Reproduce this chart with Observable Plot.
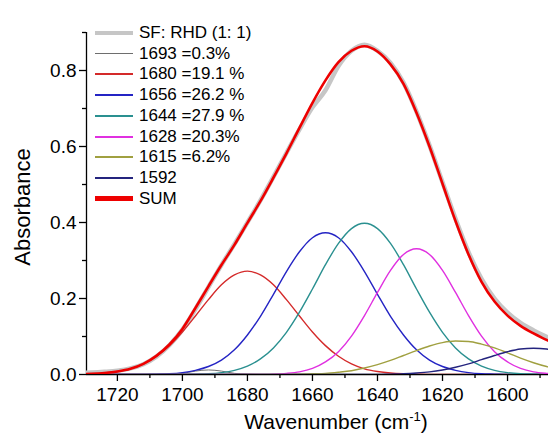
<!DOCTYPE html>
<html>
<head>
<meta charset="utf-8">
<script src="https://cdn.jsdelivr.net/npm/d3@7"></script>
<script src="https://cdn.jsdelivr.net/npm/@observablehq/plot@0.6"></script>
<style>
  body { margin: 0; background: #fff; }
  #wrap { position: relative; width: 548px; height: 435px; font-family: "Liberation Sans", Arial, sans-serif; color: #000; }
  #wrap svg { position: absolute; left: 0; top: 0; }
  #legend { position: absolute; left: 95px; top: 22.6px; font-size: 17px; }
  .row { display: flex; align-items: center; height: 20.75px; white-space: nowrap; }
  .sw { width: 38px; margin-right: 6px; }
  .ylab { position: absolute; left: 23px; top: 207px; transform: translate(-50%, -50%) rotate(-90deg); font-size: 22px; white-space: nowrap; }
  .xlab { position: absolute; left: 336px; top: 421px; transform: translate(-50%, -50%); font-size: 21px; white-space: nowrap; }
  .xlab sup { font-size: 13px; }
</style>
</head>
<body>
<div id="wrap"></div>
<script>
// ---- data ----
const wavenumber = [1732,1728,1724,1720,1716,1712,1708,1704,1700,1696,1692,1688,1684,1680,1676,1672,1668,1664,1660,1656,1652,1648,1644,1640,1636,1632,1628,1624,1620,1616,1612,1608,1604,1600,1596,1592,1588,1584];

const sfRhd  = [.004,.005,.007,.010,.016,.027,.047,.077,.118,.172,.230,.288,.343,.400,.458,.520,.583,.645,.703,.748,.812,.852,.868,.852,.820,.768,.692,.603,.506,.410,.322,.252,.200,.163,.136,.116,.099,.084];
const p1693  = [0,0,0,0,0,0,0,.001,.003,.009,.012,.009,.003,.001,0,0,0,0,0,0,0,0,0,0,0,0,0,0,0,0,0,0,0,0,0,0,0,0];
const p1680  = [.001,.002,.004,.008,.015,.028,.048,.076,.112,.154,.197,.236,.262,.272,.262,.236,.197,.154,.112,.076,.048,.028,.015,.008,.004,.002,.001,0,0,0,0,0,0,0,0,0,0,0];
const p1656  = [0,0,0,0,0,0,.001,.002,.005,.011,.021,.038,.065,.104,.153,.211,.271,.323,.360,.373,.360,.323,.271,.211,.153,.104,.065,.038,.021,.011,.005,.002,.001,0,0,0,0,0];
const p1644  = [0,0,0,0,0,0,0,0,0,.001,.002,.005,.011,.022,.041,.070,.111,.164,.225,.289,.345,.384,.398,.384,.345,.289,.225,.164,.111,.070,.041,.022,.011,.005,.002,.001,0,0];
const p1628  = [0,0,0,0,0,0,0,0,0,0,0,0,0,0,0,.001,.003,.007,.016,.033,.060,.101,.155,.216,.274,.316,.331,.316,.274,.216,.155,.101,.060,.033,.016,.007,.003,.001];
const p1615  = [0,0,0,0,0,0,0,0,0,0,0,0,0,0,0,0,0,.001,.002,.003,.006,.010,.017,.026,.037,.050,.063,.075,.084,.088,.087,.080,.070,.057,.043,.031,.021,.013];
const p1592  = [0,0,0,0,0,0,0,0,0,0,0,0,0,0,0,0,0,0,0,0,0,0,0,0,.001,.002,.004,.007,.012,.019,.028,.039,.050,.060,.067,.069,.067,.060];
const sumFit = [.001,.002,.004,.008,.015,.028,.049,.079,.120,.175,.232,.288,.341,.399,.456,.518,.582,.649,.715,.774,.822,.852,.864,.850,.816,.765,.689,.600,.502,.404,.316,.244,.192,.155,.128,.108,.091,.074];

const seriesNames = ["SF: RHD (1: 1)", "1693 =0.3%", "1680 =19.1 %", "1656 =26.2 %", "1644 =27.9 %", "1628 =20.3%", "1615 =6.2%", "1592", "SUM"];
const seriesValues = [sfRhd, p1693, p1680, p1656, p1644, p1628, p1615, p1592, sumFit];
const seriesColors = ["#c6c6c6", "#6e6e6e", "#d42a2a", "#2424c4", "#2a9090", "#e030e0", "#a0a040", "#24247e", "#ee0000"];
const seriesWidths = [4.5, 1, 1.4, 1.4, 1.4, 1.4, 1.4, 1.4, 2.6];
const legendWidths = [4, 1, 2, 2, 2, 2, 2, 2, 5];

const xDomain = [1729.5, 1587.4];
const yDomain = [0, 0.9];
const xMajor = [1720, 1700, 1680, 1660, 1640, 1620, 1600];
const xMinor = [1710, 1690, 1670, 1650, 1630, 1610, 1590];
const yMajor = [0, 0.2, 0.4, 0.6, 0.8];
const yMinor = [0.1, 0.3, 0.5, 0.7, 0.9];

// ---- chart ----
const lines = seriesValues.map((vals, k) =>
  Plot.line(wavenumber.map((w, i) => ({w, a: vals[i]})), {
    x: "w", y: "a", stroke: seriesColors[k], strokeWidth: seriesWidths[k],
    curve: "monotone-x", clip: true
  })
);

const chart = Plot.plot({
  width: 548, height: 435,
  marginLeft: 86, marginRight: 0, marginTop: 32, marginBottom: 61,
  style: {fontFamily: "Liberation Sans, Arial, sans-serif", fontSize: "19px", color: "#000", background: "transparent", overflow: "visible"},
  x: {domain: xDomain, label: null},
  y: {domain: yDomain, label: null},
  marks: [
    Plot.axisX(xMajor, {tickSize: 7, tickPadding: 6, tickFormat: d => String(d), label: null, strokeWidth: 1.3}),
    Plot.axisX(xMinor, {tickSize: 4, tickFormat: () => "", label: null, strokeWidth: 1.3}),
    Plot.axisY(yMajor, {tickSize: 7, tickPadding: 3, tickFormat: d3.format(".1f"), label: null, strokeWidth: 1.3}),
    Plot.axisY(yMinor, {tickSize: 4, tickFormat: () => "", label: null, strokeWidth: 1.3}),
    Plot.ruleX([xDomain[0]], {strokeWidth: 1.3}),
    Plot.ruleY([yDomain[0]], {strokeWidth: 1.3}),
    ...lines
  ]
});

const wrap = document.getElementById("wrap");
wrap.appendChild(chart);

// legend
const legend = document.createElement("div");
legend.id = "legend";
seriesNames.forEach((name, k) => {
  const row = document.createElement("div");
  row.className = "row";
  const sw = document.createElement("div");
  sw.className = "sw";
  sw.style.height = legendWidths[k] + "px";
  sw.style.background = seriesColors[k];
  const tx = document.createElement("span");
  tx.textContent = name;
  row.appendChild(sw);
  row.appendChild(tx);
  legend.appendChild(row);
});
wrap.appendChild(legend);

// axis titles
const yl = document.createElement("div");
yl.className = "ylab";
yl.textContent = "Absorbance";
wrap.appendChild(yl);
const xl = document.createElement("div");
xl.className = "xlab";
xl.innerHTML = "Wavenumber (cm<sup>-1</sup>)";
wrap.appendChild(xl);
</script>
</body>
</html>
